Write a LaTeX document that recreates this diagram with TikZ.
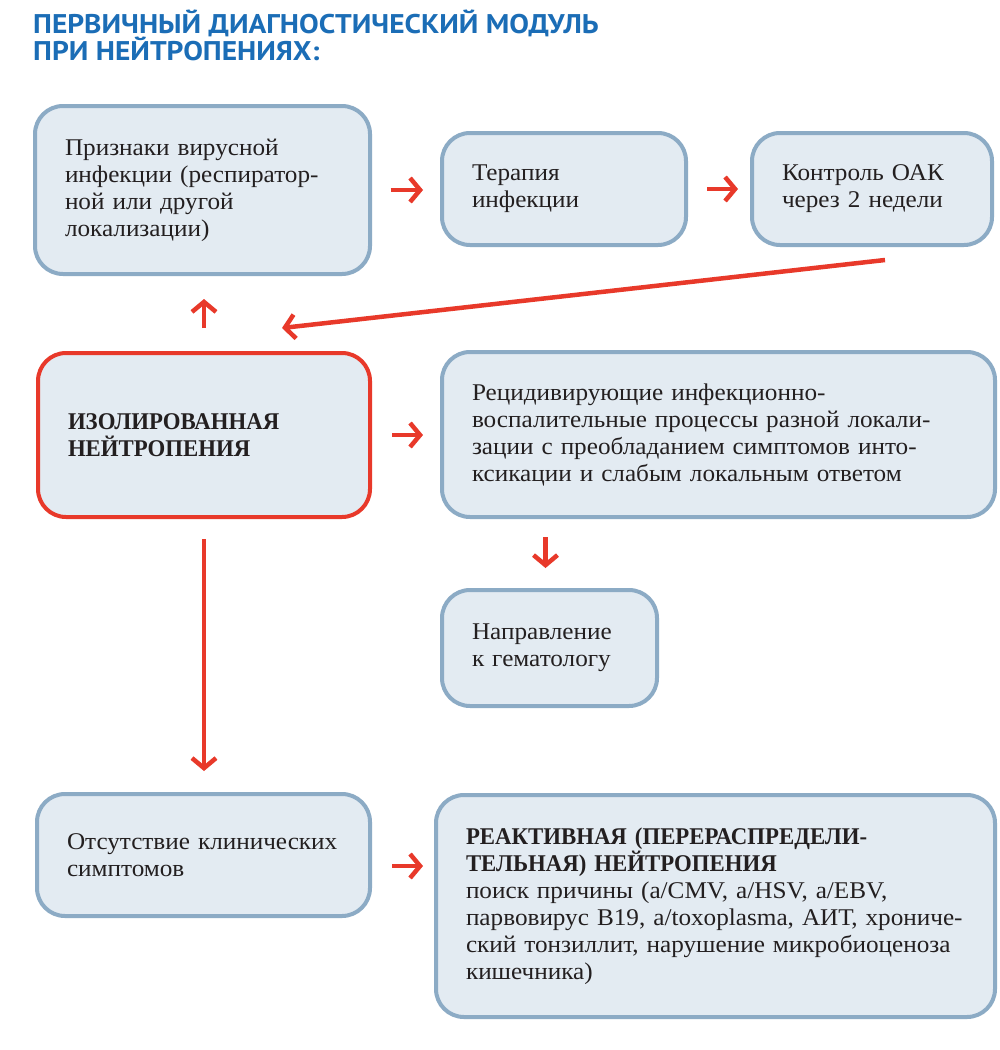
\documentclass[tikz,border=0pt]{standalone}
\usepackage{fontspec}
\setmainfont{Liberation Serif}[FakeStretch=1.05, BoldFeatures={FakeStretch=0.95}]
\newfontfamily\titlefont[FakeStretch=1.09]{PT Sans}
\usetikzlibrary{arrows.meta}
\definecolor{boxblue}{HTML}{8CABC5}
\definecolor{boxfill}{HTML}{E3EBF2}
\definecolor{redc}{HTML}{E8392A}
\definecolor{titleblue}{HTML}{1B6DB6}
\definecolor{txt}{HTML}{231F20}
\begin{document}
\begin{tikzpicture}[x=1pt,y=-1pt,
  box/.style={draw=boxblue, line width=4pt, fill=boxfill, rounded corners=28pt,
    align=left, inner xsep=30pt, inner ysep=0pt, text=txt,
    font=\fontsize{24}{27}\selectfont},
  redbox/.style={box, draw=redc},
  arr/.style={draw=redc, line width=4.5pt, -{Straight Barb[length=10pt,width=24pt]}}]
\fill[white] (0,0) rectangle (1000,1050);
\useasboundingbox (0,0) rectangle (1000,1050);

\node[anchor=north west, inner sep=0pt, align=left, text=titleblue,
  font=\titlefont\bfseries\fontsize{27}{27}\selectfont] (title) at (33,10)
  {ПЕРВИЧНЫЙ ДИАГНОСТИЧЕСКИЙ МОДУЛЬ\\ПРИ НЕЙТРОПЕНИЯХ:};

\node[box, minimum width=335pt, minimum height=168pt, text width=275pt] (b1) at (202.5,190)
  {\mbox{Признаки вирусной}\\\mbox{инфекции (респиратор-}\\\mbox{ной или другой}\\\mbox{локализации)}};
\node[box, minimum width=244pt, minimum height=112pt, text width=184pt] (b2) at (564,189)
  {\mbox{Терапия}\\\mbox{инфекции}};
\node[box, minimum width=240pt, minimum height=112pt, text width=180pt] (b3) at (872,189)
  {\mbox{Контроль ОАК}\\\mbox{через 2 недели}};
\node[redbox, minimum width=332pt, minimum height=164pt, text width=272pt] (b4) at (204,435)
  {\mbox{\bfseries ИЗОЛИРОВАННАЯ}\\\mbox{\bfseries НЕЙТРОПЕНИЯ}};
\node[box, minimum width=553pt, minimum height=165pt, text width=493pt] (b5) at (718.5,434.5)
  {\mbox{Рецидивирующие инфекционно-}\\\mbox{воспалительные процессы разной локали-}\\\mbox{зации с преобладанием симптомов инто-}\\\mbox{ксикации и слабым локальным ответом}};
\node[box, minimum width=215pt, minimum height=116pt, text width=155pt] (b6) at (549.5,648)
  {\mbox{Направление}\\\mbox{к гематологу}};
\node[box, minimum width=333pt, minimum height=122pt, text width=273pt] (b7) at (203.5,855)
  {\mbox{Отсутствие клинических}\\\mbox{симптомов}};
\node[box, minimum width=559pt, minimum height=222pt, text width=499pt] (b8) at (715.5,906)
  {\mbox{\bfseries РЕАКТИВНАЯ (ПЕРЕРАСПРЕДЕЛИ-}\\\mbox{\bfseries ТЕЛЬНАЯ) НЕЙТРОПЕНИЯ}\\\mbox{поиск причины (a/CMV, a/HSV, a/EBV,}\\\mbox{парвовирус B19, a/toxoplasma, АИТ, хрониче-}\\\mbox{ский тонзиллит, нарушение микробиоценоза}\\\mbox{кишечника)}};

\draw[arr, shorten <=18.5pt, shorten >=17pt] (b1.east) -- (b1.east -| b2.west);
\draw[arr, shorten <=19pt, shorten >=12pt] (b2.east) -- (b2.east -| b3.west);
\draw[arr, shorten <=23pt, shorten >=23pt] (b4.north) -- (b4.north |- b1.south);
\draw[arr] ([xshift=13pt,yshift=-13pt]b3.south) -- ([xshift=78pt,yshift=23pt]b4.north);
\draw[arr, shorten <=20pt, shorten >=17pt] (b4.east) -- (b4.east -| b5.west);
\draw[arr, shorten <=18pt, shorten >=20pt] ([xshift=-4pt]b6.north |- b5.south) -- ([xshift=-4pt]b6.north);
\draw[arr, shorten <=20pt, shorten >=21pt] (b4.south) -- (b4.south |- b7.north);
\draw[arr, shorten <=20pt, shorten >=11pt] ([yshift=-11pt]b7.east) -- ([yshift=-11pt]b7.east -| b8.west);
\end{tikzpicture}
\end{document}
